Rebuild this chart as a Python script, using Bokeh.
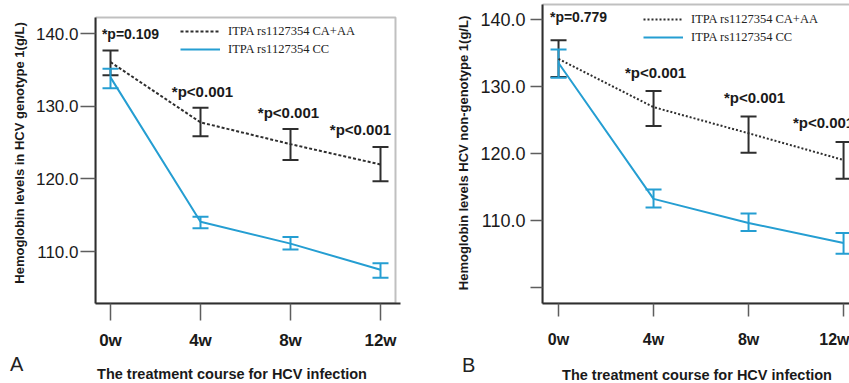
import math
from bokeh.plotting import figure
from bokeh.layouts import row, column
from bokeh.models import (FixedTicker, NumeralTickFormatter, Whisker, TeeHead, ColumnDataSource,
                          Legend, LegendItem, Range1d, BoxAnnotation, Div)
from bokeh.core.properties import value
from bokeh.embed import file_html
from bokeh.resources import INLINE

weeks = [0, 4, 8, 12]
week_labels = ["0w", "4w", "8w", "12w"]
series_names = ["ITPA rs1127354 CA+AA", "ITPA rs1127354 CC"]
x_title = "The treatment course for HCV infection"

# Panel A: HCV genotype 1
a_caaa_mean = [136.1, 127.8, 124.8, 122.0]
a_caaa_upper = [137.7, 129.8, 126.9, 124.4]
a_caaa_lower = [134.3, 125.9, 122.6, 119.7]
a_cc_mean = [134.0, 114.1, 111.1, 107.5]
a_cc_upper = [135.2, 114.8, 112.0, 108.4]
a_cc_lower = [132.5, 113.2, 110.3, 106.4]
a_pvalues = ["*p=0.109", "*p<0.001", "*p<0.001", "*p<0.001"]
a_yticks = [110, 120, 130, 140]
a_ytitle = "Hemoglobin levels in HCV genotype 1(g/L)"

# Panel B: HCV non-genotype 1
b_caaa_mean = [134.1, 126.9, 123.0, 119.0]
b_caaa_upper = [136.9, 129.3, 125.5, 121.7]
b_caaa_lower = [131.4, 124.1, 120.1, 116.2]
b_cc_mean = [133.5, 113.2, 109.6, 106.6]
b_cc_upper = [135.5, 114.6, 111.0, 108.1]
b_cc_lower = [131.3, 111.9, 108.4, 105.0]
b_pvalues = ["*p=0.779", "*p<0.001", "*p<0.001", "*p<0.001"]
b_yticks = [100, 110, 120, 130, 140]
b_ytitle = "Hemoglobin levels HCV non-genotype 1(g/L)"

DARK = "#2e2e2e"
BLUE = "#259ed2"
TICK = "#5e5e5e"
FONT = "Liberation Sans"
FIG_H = 354


def build(width, x_rng, y_rng, box, borders, yticks, ylabel_font, xlabel_font,
          ytick_out, ystand, xtick_out, xstand, title_stand, dash, caaa, cc, pvals,
          p_xoff, p_yoff, legend_loc, ytitle):
    p = figure(width=width, height=FIG_H, x_range=Range1d(*x_rng), y_range=Range1d(*y_rng),
               output_backend="svg", toolbar_location=None,
               min_border_left=borders[0], min_border_right=borders[1],
               min_border_top=borders[2], min_border_bottom=borders[3])
    p.xgrid.visible = False
    p.ygrid.visible = False
    p.outline_line_color = None
    p.background_fill_color = "white"
    p.border_fill_color = "white"

    # plot box (top / right edges; left and bottom come from the axis lines)
    p.add_layout(BoxAnnotation(left=x_rng[0], right=box[0], bottom=y_rng[0], top=box[1],
                               fill_alpha=0, line_color=DARK, line_width=2))

    yax = p.yaxis[0]
    yax.ticker = FixedTicker(ticks=yticks)
    yax.formatter = NumeralTickFormatter(format="0.0")
    yax.major_label_overrides = {100: ""}
    yax.bounds = (y_rng[0], box[1])
    yax.minor_tick_line_color = None
    yax.major_tick_in = 0
    yax.major_tick_out = ytick_out
    yax.major_tick_line_color = TICK
    yax.major_tick_line_width = 1.5
    yax.major_label_standoff = ystand
    yax.major_label_text_font = FONT
    yax.major_label_text_font_size = ylabel_font
    yax.major_label_text_color = "#1a1a1a"
    yax.axis_label = ytitle
    yax.axis_label_standoff = title_stand
    yax.axis_label_text_font = FONT
    yax.axis_label_text_font_style = "bold"
    yax.axis_label_text_font_size = "13px"
    yax.axis_label_text_color = "#1a1a1a"

    xax = p.xaxis[0]
    xax.ticker = FixedTicker(ticks=weeks)
    xax.major_label_overrides = {w: l for w, l in zip(weeks, week_labels)}
    xax.minor_tick_line_color = None
    xax.major_tick_in = 0
    xax.major_tick_out = xtick_out
    xax.major_tick_line_color = TICK
    xax.major_tick_line_width = 1.5
    xax.major_label_standoff = xstand
    xax.major_label_text_font = FONT
    xax.major_label_text_font_style = "bold"
    xax.major_label_text_font_size = xlabel_font
    xax.major_label_text_color = "#1a1a1a"

    for ax in (yax, xax):
        ax.axis_line_color = DARK
        ax.axis_line_width = 2

    # error bars
    for (mean, up, lo), color in ((caaa, DARK), (cc, BLUE)):
        src = ColumnDataSource(dict(x=weeks, upper=up, lower=lo))
        p.add_layout(Whisker(source=src, base="x", upper="upper", lower="lower",
                             line_color=color, line_width=2,
                             upper_head=TeeHead(size=16, line_color=color, line_width=2),
                             lower_head=TeeHead(size=16, line_color=color, line_width=2)))

    r1 = p.line(weeks, caaa[0], line_color=DARK, line_width=2, line_dash=dash)
    r2 = p.line(weeks, cc[0], line_color=BLUE, line_width=2)

    # p-value annotations above the CA+AA error bars
    tsrc = ColumnDataSource(dict(x=weeks, y=caaa[1], text=pvals, xo=p_xoff, yo=p_yoff,
                                 fs=["15px" if i else "14px" for i in range(len(weeks))]))
    p.text(x="x", y="y", text="text", x_offset="xo", y_offset="yo", source=tsrc,
           text_font=value(FONT), text_font_style="bold", text_font_size="fs",
           text_align="center", text_baseline="middle", text_color="#1a1a1a")

    legend = Legend(items=[LegendItem(label=series_names[0], renderers=[r1]),
                           LegendItem(label=series_names[1], renderers=[r2])],
                    location=legend_loc, orientation="vertical",
                    border_line_color=None, background_fill_alpha=0,
                    padding=0, margin=0, spacing=0,
                    glyph_width=40, glyph_height=18, label_height=18, label_standoff=8,
                    label_text_font="Liberation Serif", label_text_font_size="12.5px",
                    label_text_color="#222222")
    p.add_layout(legend)
    return p


# A: frame x 95..400 (box right edge at 395), y 2..303 (box top at y=17)
pa = build(453, (-0.667, 12.889), (102.85, 144.31), (12.667, 142.25), (95, 53, 2, 51),
           a_yticks, "17px", "17px", 15, 2, 17, 10, 6, "3 2",
           (a_caaa_mean, a_caaa_upper, a_caaa_lower), (a_cc_mean, a_cc_upper, a_cc_lower),
           a_pvalues, [20, 2, -2, -20], [-16, -16, -16, -18], (85, 245), a_ytitle)

# B: frame x 537..849 (cut at the right edge), y 2..303 (box top at y=4)
pb = build(396, (-0.675, 12.25), (97.57, 142.53), (13.0, 142.24), (84, 0, 2, 51),
           b_yticks, "18px", "16px", 12, 5, 13, 14, 6, "2 2",
           (b_caaa_mean, b_caaa_upper, b_caaa_lower), (b_cc_mean, b_cc_upper, b_cc_lower),
           b_pvalues, [20, 2, 6, -20], [-23, -19, -19, -19], (101, 257), b_ytitle)

span = "position:absolute;white-space:nowrap;font-family:'Liberation Sans',sans-serif;"
caption_html = (
    '<div style="position:relative;width:849px;height:29px;">'
    f'<div style="{span}left:10px;top:0px;font-size:20px;line-height:20px;color:#222;">A</div>'
    f'<div style="{span}left:0px;width:464px;text-align:center;top:14px;font-size:14.5px;'
    f'line-height:13px;font-weight:bold;color:#1a1a1a;">{x_title}</div>'
    f'<div style="{span}left:462px;top:1px;font-size:20px;line-height:20px;color:#222;">B</div>'
    f'<div style="{span}left:497px;width:400px;text-align:center;top:15px;font-size:14.5px;'
    f'line-height:13px;font-weight:bold;color:#1a1a1a;">{x_title}</div>'
    '</div>'
)
caption = Div(text=caption_html, width=849, height=29, margin=0)

layout = column(row(pa, pb), caption)
open("out.html", "w").write(file_html(layout, INLINE))
